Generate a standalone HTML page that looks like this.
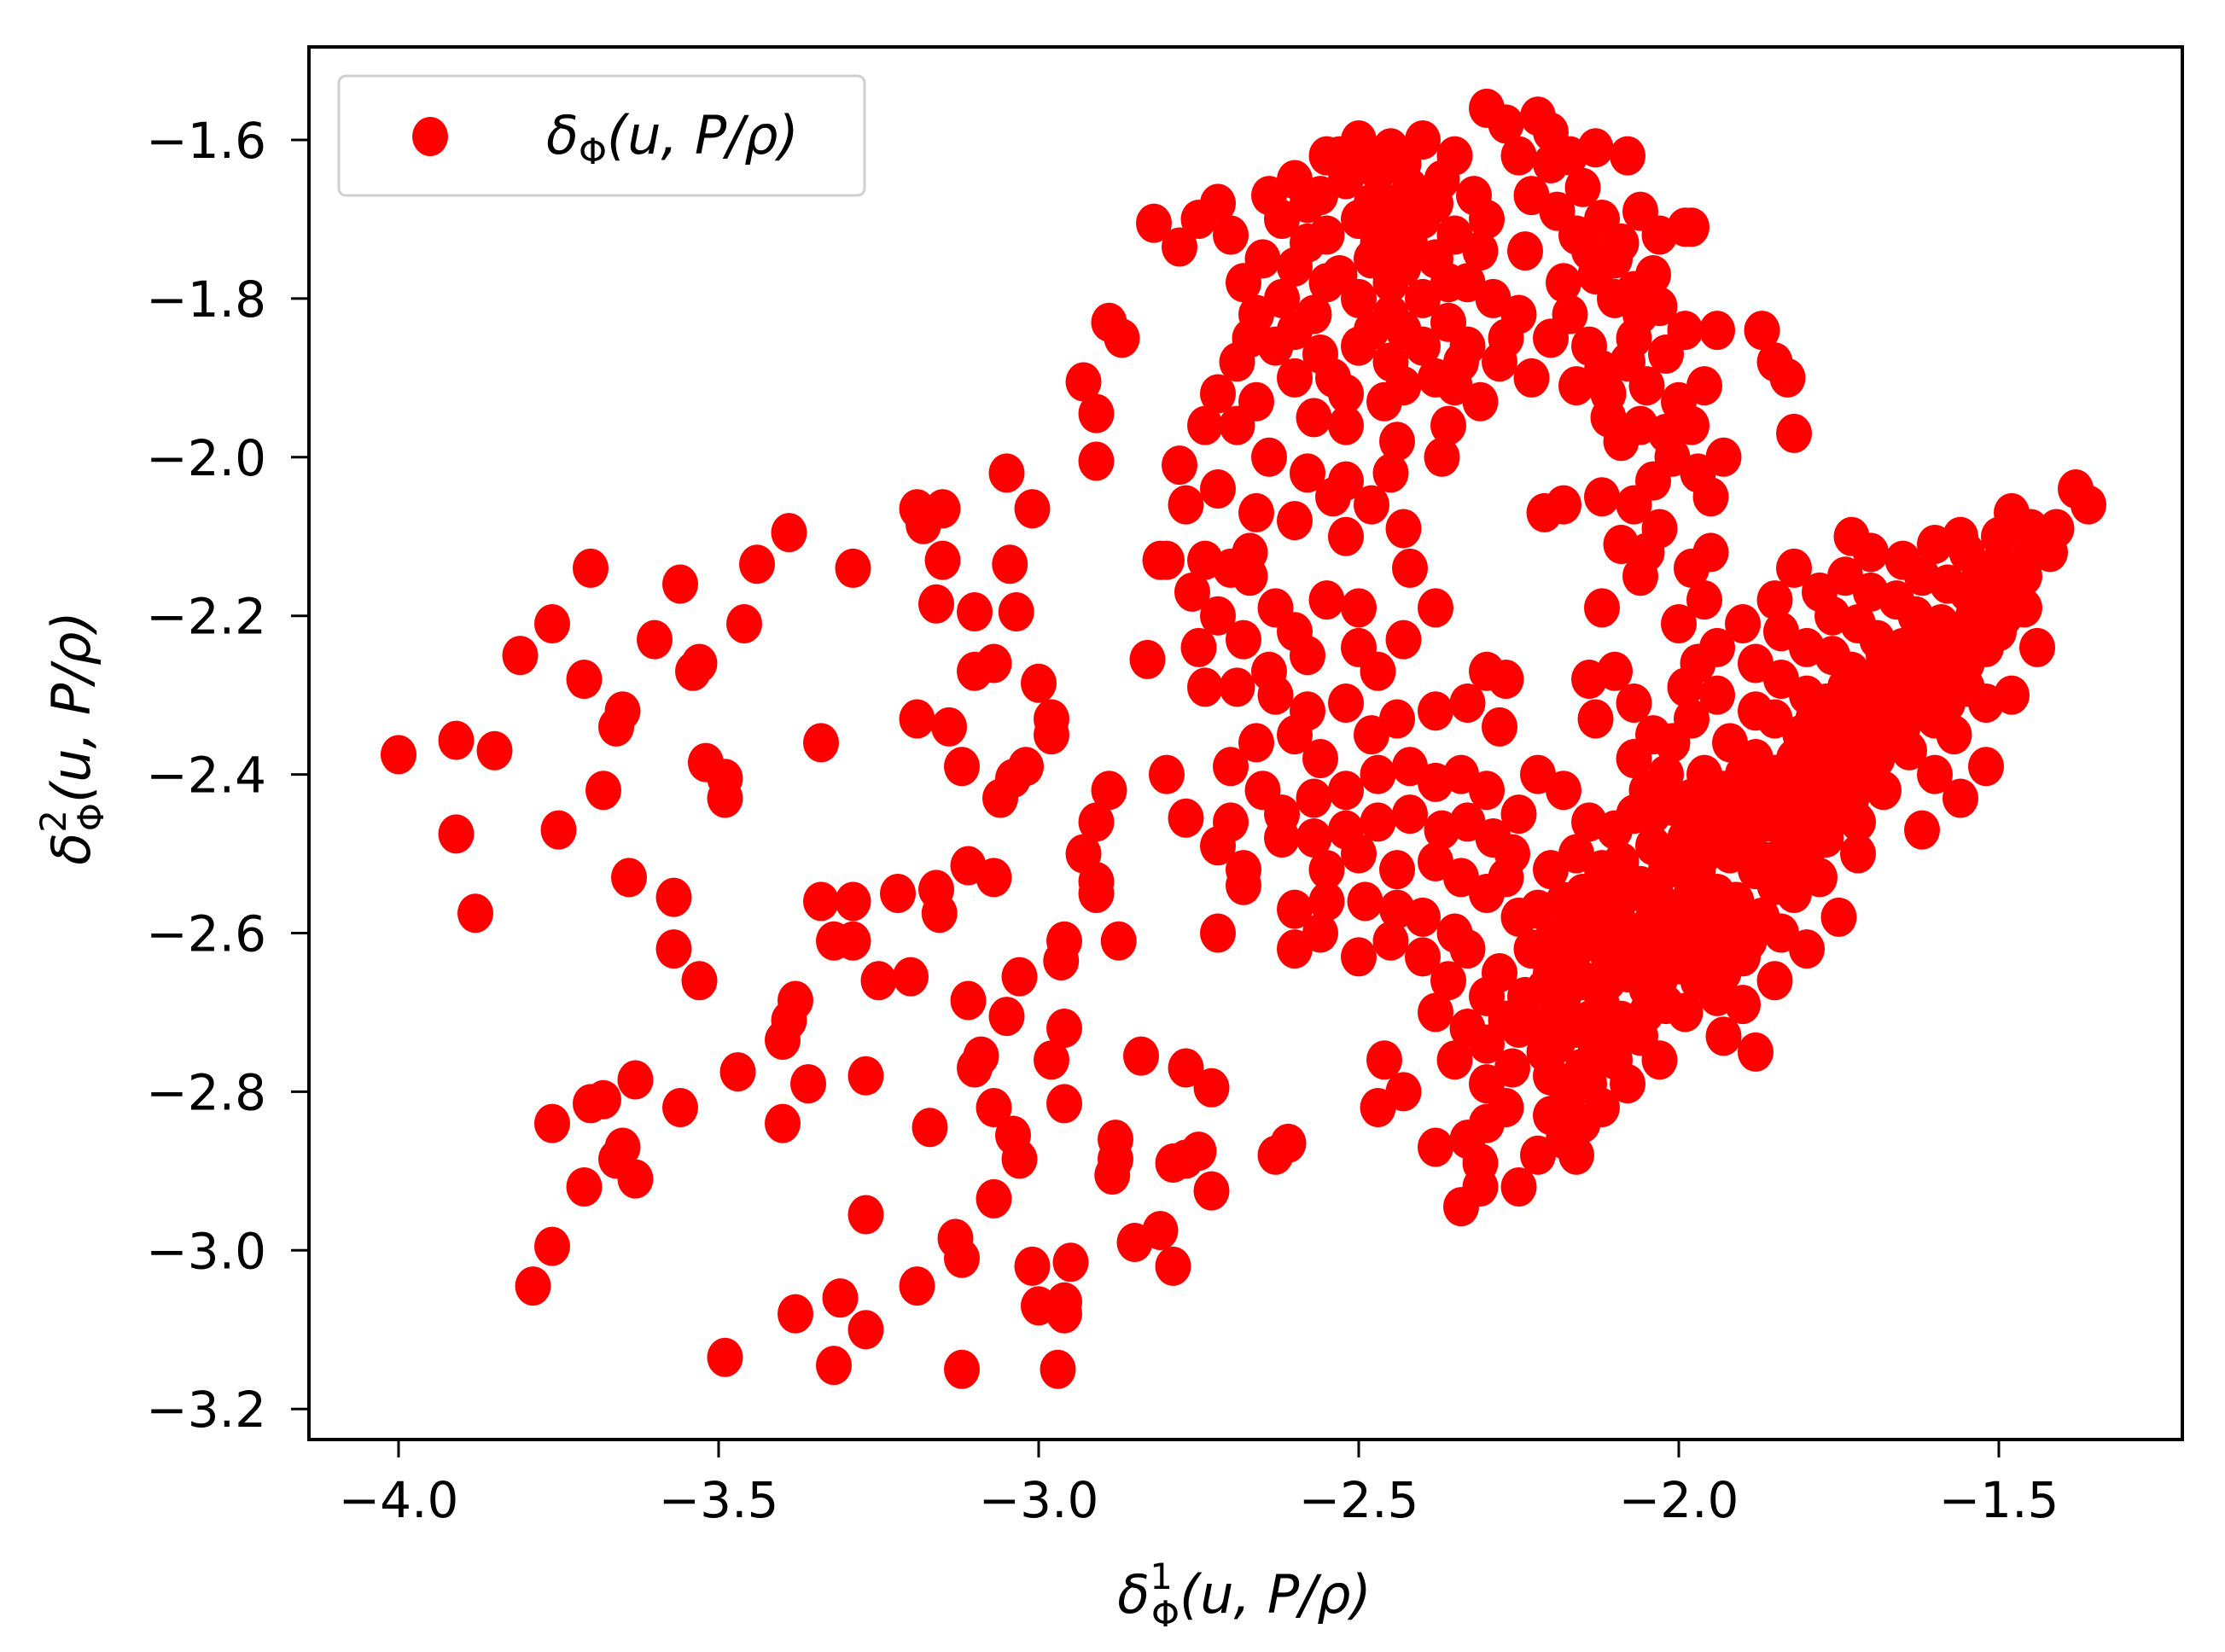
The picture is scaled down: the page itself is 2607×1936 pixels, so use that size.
<!DOCTYPE html>
<html><head><meta charset="utf-8"><style>
html,body{margin:0;padding:0;background:#fff;}
svg{display:block;}
text{font-family:"DejaVu Sans","Liberation Sans",sans-serif;fill:#000;}
</style></head><body>
<svg id="chart" width="2607" height="1936" viewBox="0 0 2607 1936" xmlns="http://www.w3.org/2000/svg">
<g id="points"></g>
<rect x="362" y="55" width="2195" height="1632" fill="none" stroke="#000" stroke-width="4"/>
<g id="axes"></g>
<g>
<rect x="397" y="89" width="616" height="140" rx="8" fill="#fff" fill-opacity="0.8" stroke="#d0d0d0" stroke-width="3"/>
<ellipse cx="504" cy="160" rx="21" ry="23" fill="#ff0000"/>
<text x="640" y="180" font-size="62" font-style="italic">δ<tspan font-size="42" font-style="normal" dy="12">Φ</tspan><tspan dy="-12">(u, P/ρ)</tspan></text>
</g>
<text x="1458" y="1890" font-size="62" font-style="italic" text-anchor="middle">δ<tspan font-size="42" font-style="normal" dy="-28">1</tspan><tspan font-size="42" font-style="normal" dx="-25" dy="44">Φ</tspan><tspan dy="-16">(u, P/ρ)</tspan></text>
<text transform="translate(105,865) rotate(-90)" font-size="62" font-style="italic" text-anchor="middle">δ<tspan font-size="42" font-style="normal" dy="-28">2</tspan><tspan font-size="42" font-style="normal" dx="-25" dy="44">Φ</tspan><tspan dy="-16">(u, P/ρ)</tspan></text>
</svg>
<script>
const xTicks = [-4.0, -3.5, -3.0, -2.5, -2.0, -1.5];
const yTicks = [-1.6, -1.8, -2.0, -2.2, -2.4, -2.6, -2.8, -3.0, -3.2];
const xs = [-4.0,-3.91,-3.85,-3.91,-3.88,-3.81,-3.76,-3.70,-3.71,-3.75,-3.68,-3.65,-3.66,-3.64,-3.60,-3.56,-3.54,-3.53,-3.52,-3.49,-3.49,-3.57,-3.57,-3.53,-3.46,-3.44,-3.39,-3.34,-3.29,-3.34,-3.32,-3.29,-3.29,-3.25,-3.22,-3.20,-3.27,-3.27,-3.38,-3.39,-3.40,-3.36,-3.40,-3.47,-3.56,-3.63,-3.68,-3.70,-3.76,-3.65,-3.66,-3.63,-3.71,-3.76,-3.79,-3.49,-3.38,-3.31,-3.32,-3.27,-3.19,-3.18,-3.15,-3.15,-3.16,-3.19,-3.14,-3.12,-3.16,-3.155,-3.11,-3.07,-3.11,-3.09,-3.10,-3.07,-3.04,-3.03,-3.07,-3.17,-3.19,-3.13,-3.12,-3.12,-3.01,-3.00,-2.97,-2.96,-2.96,-2.95,-3.05,-3.01,-3.045,-3.10,-3.035,-3.10,-3.07,-3.00,-2.98,-2.98,-3.02,-3.04,-3.06,-2.89,-2.91,-2.93,-2.91,-2.91,-2.96,-2.965,-3.03,-3.05,-2.96,-2.98,-2.96,-2.88,-2.88,-2.885,-2.875,-2.84,-2.77,-2.73,-2.79,-2.77,-2.75,-2.73,-2.85,-2.81,-2.79,-2.93,-2.91,-2.91,-2.89,-2.87,-2.82,-2.78,-2.83,-2.80,-2.77,-2.81,-2.63,-2.61,-2.34,-2.31,-2.47,-2.43,-2.38,-2.46,
-2.55,-2.5,-2.45,-2.4,-2.35,-2.6,-2.58,-2.52,-2.47,-2.42,-2.37,-2.32,-2.62,-2.55,-2.5,-2.45,-2.4,-2.35,-2.3,-2.65,-2.6,-2.53,-2.48,-2.43,-2.38,-2.33,-2.62,-2.57,-2.5,-2.45,-2.4,-2.36,-2.63,-2.56,-2.5,-2.45,-2.4,-2.34,-2.6,-2.52,-2.46,-2.38,-2.66,-2.68,-2.7,-2.72,-2.75,-2.52,-2.44,-2.57,-2.48,-2.44,-2.56,-2.64,-2.67,-2.69,-2.31,-2.29,-2.33,-2.28,-2.31,-2.36,-2.37,-2.45,-2.52,-2.58,-2.64,-2.66,-2.69,-2.72,-2.74,-2.78,-2.77,-2.72,-2.66,-2.6,-2.54,-2.48,-2.43,-2.52,-2.67,-2.7,-2.74,-2.8,-2.76,-2.72,-2.67,-2.63,-2.6,-2.55,-2.58,-2.64,-2.68,-2.75,-2.74,-2.69,-2.63,-2.58,-2.5,-2.47,-2.43,-2.38,-2.42,-2.5,-2.52,-2.48,-2.44,-2.38,-2.33,-2.3,-2.27,-2.28,-2.6,-2.56,-2.66,-2.7,-2.65,-2.62,-2.57,-2.52,-2.47,-2.42,-2.38,-2.34,-2.3,-2.25,-2.22,-2.18,-2.7,-2.72,-2.68,-2.62,-2.57,-2.52,-2.47,-2.42,-2.37,-2.33,-2.29,-2.26,-2.55,-2.5,-2.44,-2.38,-2.34,-2.3,-2.6,-2.55,-2.49,-2.44,-2.4,-2.35,-2.6,-2.56,-2.5,-2.45,-2.4,-2.36,-2.33,-2.3,-2.38,-2.33,-2.3,-2.27,-2.35,-2.3,-2.27,-2.33,-2.31,-2.68,-2.72,
-2.3,-2.27,-2.22,-2.2,-2.25,-2.2,-2.17,-2.13,-2.08,-2.23,-2.19,-2.15,-2.12,-2.06,-2.03,-1.99,-1.98,-2.09,-2.14,-2.24,-2.18,-2.13,-2.07,-2.04,-2.03,-2.1,-2.25,-2.2,-2.14,-2.07,-2.02,-1.99,-2.23,-2.27,-2.16,-2.11,-2.05,-2.0,-1.96,-1.94,-1.87,-1.85,-1.83,-1.82,-2.06,-2.11,-2.09,-2.02,-1.98,-2.01,-1.97,-1.93,-2.04,-2.07,-2.12,-2.18,-2.21,-1.95,-2.03,-2.05,-2.09,-2.06,-1.95,-1.98,-1.96,-2.0,-2.12,-2.1,-2.07,-2.04,-2.07,-2.13,-2.14,-1.99,
-2.22,-2.2,-2.18,-2.2,-2.17,-2.15,-2.22,-2.19,-2.16,-2.13,-2.1,-2.24,-2.21,-2.18,-2.15,-2.12,-2.09,-2.06,-2.23,-2.2,-2.17,-2.14,-2.11,-2.08,-2.05,-2.02,-1.99,-2.22,-2.18,-2.15,-2.12,-2.09,-2.06,-2.03,-2.0,-1.97,-1.94,-1.9,-2.2,-2.16,-2.12,-2.09,-2.06,-2.03,-2.0,-1.97,-1.93,-1.9,-2.14,-2.1,-2.07,-2.04,-2.0,-1.97,-1.94,-1.91,-1.87,-1.84,-2.05,-2.01,-1.98,-1.95,-1.92,-1.88,-1.85,-1.82,-1.96,-1.93,-1.9,-1.86,-1.83,-1.8,-1.77,-1.92,-1.88,-1.85,-1.82,-1.78,-1.75,-1.72,-1.88,-1.85,-1.81,-1.78,-1.75,-1.71,-1.68,-1.84,-1.8,-1.77,-1.73,-1.7,-1.67,-1.64,-1.6,-1.8,-1.76,-1.73,-1.69,-1.66,-1.63,-1.6,-1.57,-1.76,-1.72,-1.69,-1.65,-1.62,-1.58,-1.55,-1.52,-1.7,-1.66,-1.63,-1.59,-1.56,-1.52,-1.49,-1.46,-1.62,-1.58,-1.55,-1.51,-1.48,-1.45,-1.42,-1.55,-1.5,-1.45,-1.41,-1.38,-1.36,-1.48,-1.6,-1.65,-1.7,-1.74,-1.78,-1.56,-1.73,-1.82,-1.85,-1.9,-1.94,-1.97,-1.98,-2.01,-2.02,-1.84,-1.88,-1.94,-1.62,-1.78,-1.75,-1.72,-1.56,-1.52,-1.48,-1.44,-2.08,-2.12,-2.15,-2.25,-2.3,-2.26,-2.28,-2.25,-2.27,-2.03,-1.93,-1.88,-1.85,-1.8,-1.9,-1.93,
-2.19,-2.14,-2.11,-2.16,-2.1,-2.07,-2.04,-2.01,-2.08,-2.13,-2.17,-2.02,-1.98,-1.95,-1.92,-1.89,-1.96,-1.99,-1.91,-1.89,-1.86,-1.83,-1.87,-1.84,-1.81,-1.79,-1.76,-1.73,-1.79,-1.76,-1.72,-1.69,-1.74,-1.71,-1.68,-1.65,-1.68,-1.64,-1.61,-1.58,-1.62,-1.58,-1.55,-1.54,-1.5,-1.53,-1.5,-1.46,-1.44,-2.21,-2.18,-2.14,-2.16,-2.11,-2.05,-2.2,-2.25,-1.97,-2.03,-1.98,-1.94,-2.04,-1.9,-1.82,
-2.53,-2.43,-2.38,-2.48,-2.58,-2.47,-2.42,-2.36,-2.55,-2.45,-2.6,-2.48,-2.43,-2.54,-2.43,-2.35,-2.16,-2.1,-2.06,-2.17,-2.12,-2.08];
const ys = [-2.375,-2.357,-2.37,-2.475,-2.575,-2.25,-2.21,-2.14,-2.28,-2.47,-2.42,-2.32,-2.34,-2.53,-2.23,-2.16,-2.27,-2.26,-2.385,-2.405,-2.43,-2.555,-2.62,-2.66,-2.21,-2.135,-2.095,-2.36,-2.14,-2.56,-2.61,-2.61,-2.56,-2.66,-2.55,-2.655,-2.78,-2.955,-2.685,-2.71,-2.735,-2.79,-2.84,-2.775,-2.82,-2.785,-2.81,-2.815,-2.84,-2.87,-2.885,-2.91,-2.92,-2.995,-3.045,-3.135,-3.08,-3.06,-3.145,-3.10,-2.065,-2.085,-2.065,-2.13,-2.185,-2.33,-2.34,-2.39,-2.545,-2.575,-2.515,-2.53,-2.685,-2.755,-2.77,-2.82,-2.855,-2.885,-2.935,-2.845,-3.045,-2.985,-3.01,-3.15,-3.02,-3.07,-3.15,-3.065,-3.08,-3.015,-2.02,-2.065,-2.135,-2.195,-2.195,-2.27,-2.26,-2.285,-2.33,-2.35,-2.39,-2.405,-2.43,-2.42,-2.46,-2.50,-2.535,-2.55,-2.61,-2.635,-2.655,-2.705,-2.72,-2.76,-2.815,-2.86,-2.885,-2.905,-2.61,-2.755,-2.77,-2.795,-2.89,-2.885,-2.875,-2.925,-2.99,-2.975,-3.02,-1.905,-1.945,-2.005,-1.83,-1.85,-1.705,-1.735,-2.255,-2.40,-2.455,-2.13,-2.88,-2.865,-2.945,-2.92,-2.82,-2.80,-2.87,-2.76,
-1.62,-1.6,-1.61,-1.6,-1.62,-1.65,-1.68,-1.65,-1.64,-1.66,-1.65,-1.67,-1.7,-1.72,-1.7,-1.71,-1.7,-1.72,-1.7,-1.75,-1.76,-1.77,-1.75,-1.76,-1.75,-1.78,-1.8,-1.82,-1.8,-1.82,-1.8,-1.83,-1.86,-1.87,-1.86,-1.88,-1.86,-1.88,-1.9,-1.92,-1.93,-1.9,-1.82,-1.78,-1.72,-1.68,-1.7,-1.96,-1.98,-1.95,-1.63,-1.68,-1.67,-1.67,-1.85,-1.88,-1.74,-1.8,-1.86,-1.88,-1.93,-1.96,-2.0,-2.02,-2.03,-2.02,-2.0,-1.93,-1.96,-1.92,-1.96,-2.01,-2.06,-2.04,-2.07,-2.08,-2.05,-2.06,-2.09,-2.1,-2.12,-2.14,-2.13,-2.13,-2.17,-2.2,-2.15,-2.19,-2.22,-2.18,-2.25,-2.27,-2.23,-2.24,-2.29,-2.29,-2.3,-2.32,-2.24,-2.27,-2.23,-2.19,-2.14,-2.19,-2.31,-2.35,-2.33,-2.32,-2.31,-2.27,-2.28,-2.34,-2.35,-2.38,-2.36,-2.39,-2.42,-2.45,-2.43,-2.42,-2.4,-2.39,-2.41,-2.4,-2.42,-2.45,-2.4,-2.42,-2.46,-2.49,-2.52,-2.48,-2.48,-2.47,-2.46,-2.45,-2.47,-2.46,-2.48,-2.5,-2.52,-2.5,-2.52,-2.51,-2.53,-2.55,-2.57,-2.56,-2.56,-2.57,-2.58,-2.6,-2.62,-2.6,-2.63,-2.61,-2.63,-2.66,-2.62,-2.68,-2.7,-2.72,-2.74,-2.71,-2.76,-2.79,-2.82,-2.86,-2.89,-2.54,-2.6,
-1.56,-1.58,-1.57,-1.59,-1.62,-1.63,-1.62,-1.61,-1.62,-1.67,-1.69,-1.66,-1.7,-1.69,-1.72,-1.71,-1.71,-1.73,-1.74,-1.74,-1.78,-1.77,-1.79,-1.77,-1.81,-1.8,-1.82,-1.85,-1.86,-1.85,-1.87,-1.84,-1.9,-1.85,-1.91,-1.92,-1.91,-1.93,-1.91,-1.84,-1.84,-1.88,-1.9,-1.97,-1.96,-1.95,-1.98,-1.97,-1.96,-2.0,-2.02,-2.0,-2.03,-2.06,-2.05,-2.06,-2.07,-2.05,-2.09,-2.12,-2.11,-2.15,-2.12,-2.14,-2.18,-2.21,-2.19,-2.27,-2.31,-2.35,-2.38,-2.33,-2.28,-2.29,
-2.88,-2.83,-2.86,-2.78,-2.8,-2.77,-2.72,-2.74,-2.72,-2.75,-2.76,-2.68,-2.67,-2.68,-2.66,-2.69,-2.71,-2.73,-2.62,-2.61,-2.63,-2.6,-2.63,-2.65,-2.67,-2.69,-2.7,-2.57,-2.56,-2.55,-2.57,-2.59,-2.6,-2.62,-2.64,-2.66,-2.68,-2.69,-2.52,-2.5,-2.52,-2.51,-2.54,-2.56,-2.57,-2.59,-2.61,-2.63,-2.46,-2.47,-2.45,-2.49,-2.5,-2.52,-2.55,-2.56,-2.58,-2.6,-2.42,-2.44,-2.46,-2.48,-2.5,-2.52,-2.54,-2.55,-2.4,-2.42,-2.44,-2.46,-2.48,-2.5,-2.48,-2.36,-2.38,-2.4,-2.42,-2.44,-2.45,-2.46,-2.32,-2.33,-2.35,-2.37,-2.39,-2.4,-2.42,-2.28,-2.3,-2.31,-2.33,-2.35,-2.36,-2.37,-2.4,-2.24,-2.25,-2.27,-2.28,-2.3,-2.32,-2.33,-2.35,-2.2,-2.21,-2.23,-2.24,-2.26,-2.27,-2.29,-2.31,-2.17,-2.18,-2.2,-2.21,-2.23,-2.24,-2.2,-2.19,-2.15,-2.16,-2.17,-2.14,-2.14,-2.12,-2.12,-2.12,-2.1,-2.09,-2.09,-2.04,-2.06,-2.07,-2.11,-2.13,-2.12,-2.15,-2.17,-2.1,-2.1,-2.14,-2.18,-2.21,-2.24,-2.26,-2.33,-2.36,-2.4,-2.22,-2.26,-2.3,-2.47,-2.53,-2.58,-2.5,-2.43,-2.39,-2.3,-2.24,-2.79,-2.82,-2.84,-2.92,-2.84,-2.77,-2.65,-2.58,-2.53,-2.76,-2.73,-2.75,-2.66,-2.62,-2.58,-2.65,
-2.7,-2.71,-2.66,-2.62,-2.6,-2.63,-2.58,-2.6,-2.55,-2.55,-2.58,-2.52,-2.55,-2.57,-2.59,-2.61,-2.5,-2.48,-2.47,-2.49,-2.51,-2.52,-2.42,-2.44,-2.46,-2.4,-2.42,-2.43,-2.33,-2.35,-2.37,-2.38,-2.29,-2.31,-2.32,-2.34,-2.25,-2.27,-2.29,-2.31,-2.22,-2.24,-2.26,-2.2,-2.22,-2.15,-2.17,-2.15,-2.1,-2.75,-2.82,-2.79,-2.88,-2.73,-2.7,-2.65,-2.72,-2.63,-2.66,-2.43,-2.45,-2.45,-2.4,-2.38,
-1.62,-1.63,-1.68,-1.68,-1.73,-1.73,-1.73,-1.78,-1.78,-1.78,-1.84,-1.84,-1.84,-1.9,-1.91,-1.91,-1.72,-1.75,-1.82,-1.82,-1.89,-1.88];
const NS='http://www.w3.org/2000/svg';
function sx(v){return 1217+(v+3.0)*750;}
function sy(v){return 164+(-1.6-v)*929.5;}
const gp=document.getElementById('points');
for(let i=0;i<xs.length;i++){
  const c=document.createElementNS(NS,'ellipse');
  c.setAttribute('cx',sx(xs[i]));c.setAttribute('cy',sy(ys[i]));
  c.setAttribute('rx',21);c.setAttribute('ry',23);c.setAttribute('fill','#ff0000');
  
  
  gp.appendChild(c);
}
const ga=document.getElementById('axes');
xTicks.forEach(t=>{
  const l=document.createElementNS(NS,'line');
  l.setAttribute('x1',sx(t));l.setAttribute('x2',sx(t));l.setAttribute('y1',1687);l.setAttribute('y2',1708);
  l.setAttribute('stroke','#000');l.setAttribute('stroke-width',3);
  
  
  ga.appendChild(l);
  const tx=document.createElementNS(NS,'text');
  tx.setAttribute('x',sx(t));tx.setAttribute('y',1778);tx.setAttribute('font-size',58);tx.setAttribute('text-anchor','middle');
  tx.textContent='\u2212'+Math.abs(t).toFixed(1);
  
  
  ga.appendChild(tx);
});
yTicks.forEach(t=>{
  const l=document.createElementNS(NS,'line');
  l.setAttribute('x1',341);l.setAttribute('x2',362);l.setAttribute('y1',sy(t));l.setAttribute('y2',sy(t));
  l.setAttribute('stroke','#000');l.setAttribute('stroke-width',3);
  
  
  ga.appendChild(l);
  const tx=document.createElementNS(NS,'text');
  tx.setAttribute('x',312);tx.setAttribute('y',sy(t)+21);tx.setAttribute('font-size',58);tx.setAttribute('text-anchor','end');
  tx.textContent='\u2212'+Math.abs(t).toFixed(1);
  
  
  ga.appendChild(tx);
});
</script>
</body></html>
